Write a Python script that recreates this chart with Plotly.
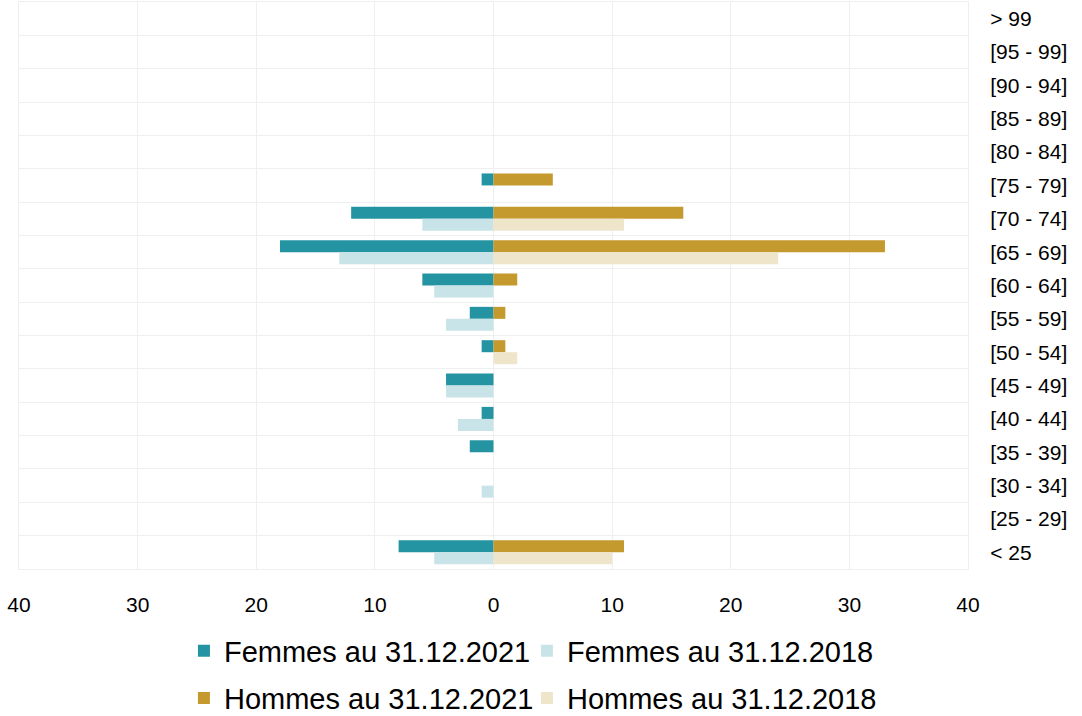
import plotly.graph_objects as go

# age bands, bottom to top
age_bands = [
    "< 25", "[25 - 29]", "[30 - 34]", "[35 - 39]", "[40 - 44]", "[45 - 49]",
    "[50 - 54]", "[55 - 59]", "[60 - 64]", "[65 - 69]", "[70 - 74]", "[75 - 79]",
    "[80 - 84]", "[85 - 89]", "[90 - 94]", "[95 - 99]", "> 99",
]
femmes_2021 = [8, 0, 0, 2, 1, 4, 1, 2, 6, 18, 12, 1, 0, 0, 0, 0, 0]
femmes_2018 = [5, 0, 1, 0, 3, 4, 0, 4, 5, 13, 6, 0, 0, 0, 0, 0, 0]
hommes_2021 = [11, 0, 0, 0, 0, 0, 1, 1, 2, 33, 16, 5, 0, 0, 0, 0, 0]
hommes_2018 = [10, 0, 0, 0, 0, 0, 2, 0, 0, 24, 11, 0, 0, 0, 0, 0, 0]

x_ticks = [-40, -30, -20, -10, 0, 10, 20, 30, 40]

TEAL = "#2494a2"
TEAL_LIGHT = "#c9e4e8"
GOLD = "#c49a2f"
GOLD_LIGHT = "#efe5ca"
GRID = "#efefef"

BAR_W = 0.36

# name, values, colour, bar offset, legend id, legend x/y (container fractions)
series = [
    ("Femmes au 31.12.2021", [-v for v in femmes_2021], TEAL, 0.0, "legend", 0.170, 0.091),
    ("Femmes au 31.12.2018", [-v for v in femmes_2018], TEAL_LIGHT, -BAR_W, "legend2", 0.487, 0.091),
    ("Hommes au 31.12.2021", hommes_2021, GOLD, 0.0, "legend3", 0.170, 0.025),
    ("Hommes au 31.12.2018", hommes_2018, GOLD_LIGHT, -BAR_W, "legend4", 0.487, 0.025),
]

fig = go.Figure()
legends = {}
for name, vals, color, off, leg, lx, ly in series:
    fig.add_trace(
        go.Bar(
            name=name,
            x=vals,
            y=age_bands,
            orientation="h",
            width=BAR_W,
            offset=off,
            legend=leg,
            marker={"color": color, "line": {"width": 0}},
            customdata=[abs(v) for v in vals],
            hovertemplate="%{y}: %{customdata}<extra>" + name + "</extra>",
        )
    )
    legends[leg] = {
        "orientation": "h",
        "xref": "container",
        "yref": "container",
        "x": lx,
        "y": ly,
        "xanchor": "left",
        "yanchor": "middle",
        "font": {"size": 29, "color": "#000000"},
        "itemclick": False,
        "bgcolor": "rgba(0,0,0,0)",
    }

fig.update_layout(
    width=1082,
    height=716,
    barmode="overlay",
    plot_bgcolor="white",
    paper_bgcolor="white",
    margin={"l": 19, "r": 114, "t": 2, "b": 147},
    font={"family": "Liberation Sans, Arial, sans-serif", "color": "#000000", "size": 21},
    xaxis={
        "range": [-40, 40],
        "tickvals": x_ticks,
        "ticktext": [str(abs(t)) for t in x_ticks],
        "showgrid": True,
        "gridcolor": GRID,
        "zeroline": False,
        "showline": True,
        "mirror": True,
        "linecolor": GRID,
        "ticks": "",
        "ticklabelstandoff": 17,
        "tickfont": {"size": 21},
        "automargin": False,
        "fixedrange": True,
    },
    yaxis={
        "type": "category",
        "categoryorder": "array",
        "categoryarray": age_bands,
        "range": [-0.5, len(age_bands) - 0.5],
        "side": "right",
        "tickson": "boundaries",
        "showgrid": True,
        "gridcolor": GRID,
        "showline": True,
        "mirror": True,
        "linecolor": GRID,
        "ticks": "",
        "ticklabelstandoff": 17,
        "tickfont": {"size": 21},
        "automargin": False,
        "fixedrange": True,
    },
    showlegend=True,
    **legends,
)

# drop the default page margin so the figure sits at the window origin
fig.write_html(
    "out.html",
    config={"displayModeBar": False},
    post_script="document.body.style.margin = '0';",
)
